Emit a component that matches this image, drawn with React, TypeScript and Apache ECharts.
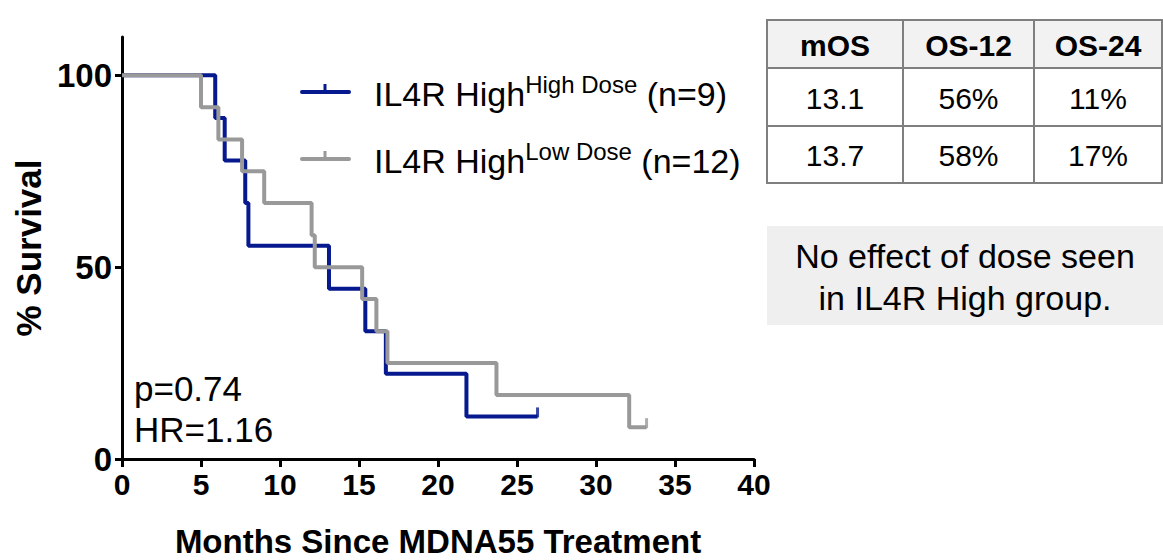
import React, { useEffect, useRef } from "react";
import * as echarts from "echarts";

const FONT = "'Liberation Sans', Arial, Helvetica, sans-serif";

// Kaplan-Meier step data (months, % survival)
const highDoseMonths = [0, 5.9, 6.5, 7.8, 8.0, 13.1, 15.4, 16.7, 21.8, 26.3];
const highDoseSurvival = [100, 88.9, 77.8, 66.7, 55.6, 44.4, 33.3, 22.2, 11.1, 11.1];
const highDoseCensorMonths = [26.3];
const highDoseCensorSurvival = [11.1];

const lowDoseMonths = [0, 5.0, 6.1, 7.6, 9.0, 12.0, 12.2, 15.2, 16.1, 16.8, 23.7, 32.1, 33.2];
const lowDoseSurvival = [100, 91.7, 83.3, 75, 66.7, 58.3, 50, 41.7, 33.3, 25, 16.7, 8.3, 8.3];
const lowDoseCensorMonths = [33.2];
const lowDoseCensorSurvival = [8.3];

const xTicks = [0, 5, 10, 15, 20, 25, 30, 35, 40];
const yTicks = [0, 50, 100];

const seriesNames = ["IL4R High", "IL4R High"];
const seriesSup = ["High Dose", "Low Dose"];
const seriesN = ["(n=9)", "(n=12)"];
const seriesColors = ["#06198f", "#999999"];

const tableHeader = ["mOS", "OS-12", "OS-24"];
const tableRows = [
  ["13.1", "56%", "11%"],
  ["13.7", "58%", "17%"],
];
const statsLines = ["p=0.74", "HR=1.16"];
const noteLines = ["No effect of dose seen", "in IL4R High group."];

const zip = (xs: number[], ys: number[]) => xs.map((x, i) => [x, ys[i]]);

export default function App() {
  const ref = useRef<HTMLDivElement>(null);
  useEffect(() => {
    if (!ref.current) return;
    const chart = echarts.init(ref.current, undefined, { renderer: "svg" });

    const colEdges = [767, 903, 1034, 1162];
    const rowEdges = [20, 68, 126, 183];
    const graphics: any[] = [];
    // table cells
    for (let r = 0; r < 3; r++) {
      for (let c = 0; c < 3; c++) {
        graphics.push({
          type: "rect",
          shape: {
            x: colEdges[c],
            y: rowEdges[r],
            width: colEdges[c + 1] - colEdges[c],
            height: rowEdges[r + 1] - rowEdges[r],
          },
          style: { fill: r === 0 ? "#f2f2f2" : "#ffffff", stroke: "#7f7f7f", lineWidth: 2 },
        });
        const txt = r === 0 ? tableHeader[c] : tableRows[r - 1][c];
        graphics.push({
          type: "text",
          x: (colEdges[c] + colEdges[c + 1]) / 2,
          y: (rowEdges[r] + rowEdges[r + 1]) / 2 + 1,
          style: {
            text: txt,
            fontFamily: FONT,
            fontSize: 30,
            fontWeight: r === 0 ? "bold" : "normal",
            fill: "#000",
            align: "center",
            verticalAlign: "middle",
          },
        });
      }
    }
    // note box
    graphics.push({
      type: "rect",
      shape: { x: 767, y: 226, width: 396, height: 99 },
      style: { fill: "#efefef" },
    });
    noteLines.forEach((t, i) => {
      graphics.push({
        type: "text",
        x: 965,
        y: 256 + i * 42,
        style: { text: t, fontFamily: FONT, fontSize: 34, fill: "#000", align: "center", verticalAlign: "middle" },
      });
    });
    // stats
    statsLines.forEach((t, i) => {
      graphics.push({
        type: "text",
        x: 134,
        y: 388 + i * 41,
        style: { text: t, fontFamily: FONT, fontSize: 35, fill: "#000", align: "left", verticalAlign: "middle" },
      });
    });
    // legend
    const legendY = [92, 159];
    seriesNames.forEach((name, i) => {
      graphics.push({
        type: "line",
        shape: { x1: 302, y1: legendY[i], x2: 349, y2: legendY[i] },
        style: { stroke: seriesColors[i], lineWidth: 4, lineCap: "round" },
      });
      graphics.push({
        type: "line",
        shape: { x1: 325, y1: legendY[i], x2: 325, y2: legendY[i] - 8 },
        style: { stroke: seriesColors[i], lineWidth: 3 },
      });
      graphics.push({
        type: "text",
        x: 374,
        y: legendY[i] + 2,
        style: {
          text: `{m|${name}}{s|${seriesSup[i]}}{m| ${seriesN[i]}}`,
          verticalAlign: "middle",
          align: "left",
          rich: {
            m: { fontFamily: FONT, fontSize: 34, fill: "#000" },
            s: { fontFamily: FONT, fontSize: 24, fill: "#000", padding: [0, 0, 20, 0] },
          },
        },
      });
    });

    chart.setOption({
      animation: false,
      grid: {
        left: 122,
        top: 37,
        width: 632,
        height: 422,
        containLabel: false,
        outerBoundsMode: "none",
      },
      xAxis: {
        type: "value",
        min: 0,
        max: 40,
        interval: 5,
        axisLine: { lineStyle: { color: "#000", width: 3 } },
        axisTick: { length: 8, lineStyle: { color: "#000", width: 3 }, customValues: xTicks },
        axisLabel: { fontFamily: FONT, fontSize: 30, fontWeight: "bold", color: "#000", margin: 10, customValues: xTicks },
        splitLine: { show: false },
        name: "Months Since MDNA55 Treatment",
        nameLocation: "middle",
        nameGap: 66,
        nameTextStyle: { fontFamily: FONT, fontSize: 33, fontWeight: "bold", color: "#000" },
      },
      yAxis: {
        type: "value",
        min: 0,
        max: 110,
        interval: 50,
        axisLine: { show: true, lineStyle: { color: "#000", width: 3 } },
        axisTick: { show: true, length: 7, lineStyle: { color: "#000", width: 3 }, customValues: yTicks },
        axisLabel: { fontFamily: FONT, fontSize: 33, fontWeight: "bold", color: "#000", margin: 10, customValues: yTicks },
        splitLine: { show: false },
        name: "% Survival",
        nameLocation: "middle",
        nameGap: 72,
        nameTextStyle: { fontFamily: FONT, fontSize: 35, fontWeight: "bold", color: "#000" },
      },
      series: [
        {
          type: "line",
          step: "end",
          data: zip(highDoseMonths, highDoseSurvival),
          symbol: "none",
          lineStyle: { color: seriesColors[0], width: 4 },
          z: 2,
        },
        {
          type: "scatter",
          data: zip(highDoseCensorMonths, highDoseCensorSurvival),
          symbol: "rect",
          symbolSize: [3, 10],
          symbolOffset: [0, -4],
          itemStyle: { color: seriesColors[0] },
          z: 2,
        },
        {
          type: "line",
          step: "end",
          data: zip(lowDoseMonths, lowDoseSurvival),
          symbol: "none",
          lineStyle: { color: seriesColors[1], width: 4 },
          z: 3,
        },
        {
          type: "scatter",
          data: zip(lowDoseCensorMonths, lowDoseCensorSurvival),
          symbol: "rect",
          symbolSize: [3, 10],
          symbolOffset: [0, -4],
          itemStyle: { color: seriesColors[1] },
          z: 3,
        },
      ],
      graphic: graphics,
    });
    return () => chart.dispose();
  }, []);
  return (
    <div
      ref={ref}
      style={{ position: "fixed", left: 0, top: 0, width: 1163, height: 560, background: "#fff" }}
    />
  );
}
